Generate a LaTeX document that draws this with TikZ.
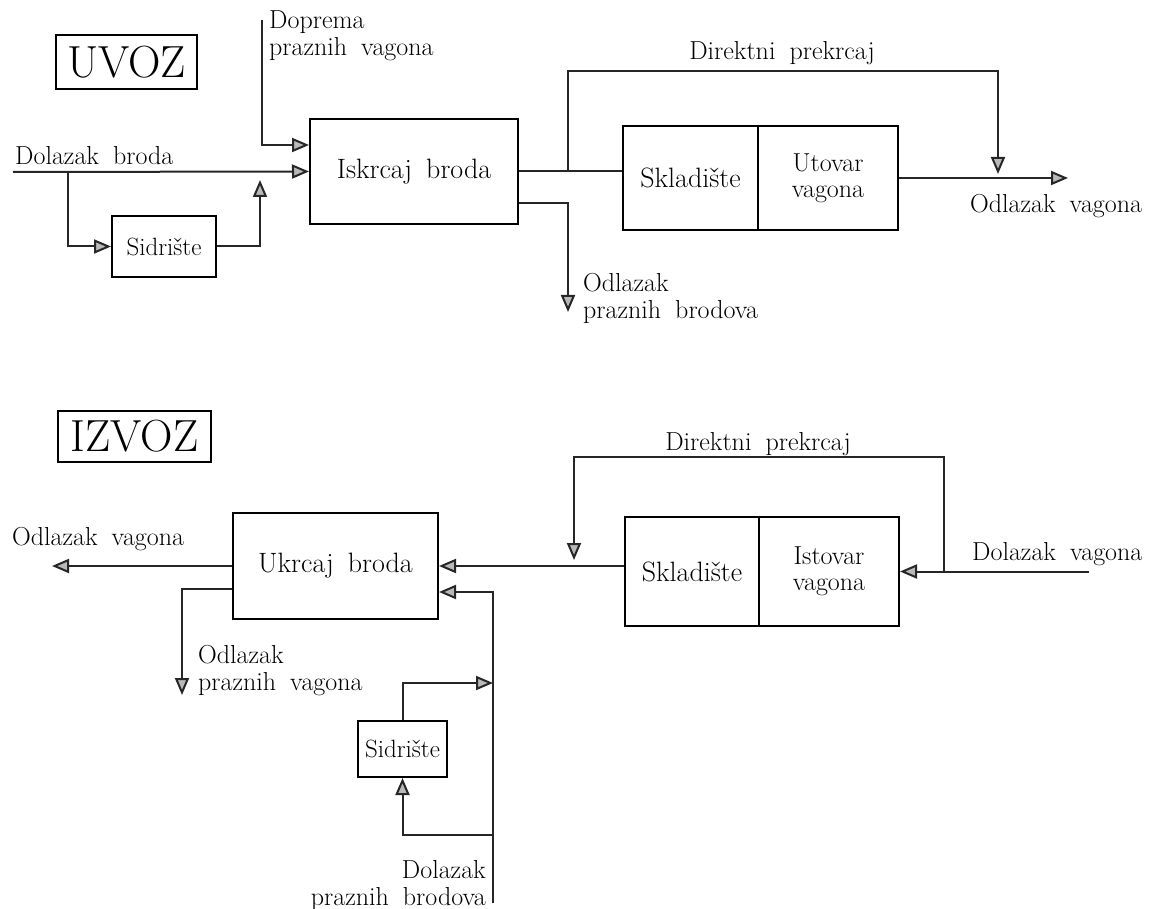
\documentclass[tikz,border=0pt]{standalone}
\usetikzlibrary{arrows.meta}
\newcommand\widespc{\spaceskip 14pt plus 2pt minus 1pt\relax}
\tikzset{
  box/.style={draw, line width=2pt, inner sep=0pt, align=center,
    font=\fontsize{28}{30}\selectfont\widespc},
  smallbox/.style={box, font=\fontsize{25}{28}\selectfont},
  vbox/.style={box, font=\fontsize{26}{26}\selectfont},
  title/.style={draw, line width=2pt, inner sep=0pt, font=\fontsize{45}{48}\selectfont},
  lbl/.style={inner sep=0pt, font=\fontsize{26}{27}\selectfont\widespc},
  flow/.style={line width=2pt, draw=black!85},
  arr/.style={flow, -{Triangle[length=17pt,width=14pt,fill=gray!55]}},
}
\begin{document}
\begin{tikzpicture}[x=1pt,y=-1pt]
\useasboundingbox (0,0) rectangle (1170,909);

% ---------------- UVOZ ----------------
\node[title, minimum width=141pt, minimum height=54pt] (uvoz) at (126.5,62) {UVOZ};
\node[box, minimum width=208pt, minimum height=105pt] (isk) at (414,171.5) {Iskrcaj broda};
\node[smallbox, minimum width=104pt, minimum height=61pt] (sid1) at (164,246.5) {Sidrište};
\node[box, minimum width=135pt, minimum height=104pt] (skl1) at (690.5,178) {Skladište};
\node[vbox, minimum width=140pt, minimum height=104pt] (uto1) at (828,178) {Utovar\\vagona};

\coordinate (dop) at (262,20);
\coordinate (din) at (13,172);
\coordinate (br1) at (68,172);
\coordinate (j1) at (260,180);
\coordinate (j2) at (568,171.5);
\coordinate (dtop) at (998,71);
\coordinate (dtip) at (998,174);
\coordinate (out1) at (1068,178);
\coordinate (odl1) at (568,312);

\draw[arr] (dop) |- ([yshift=26.5pt]isk.west);
\draw[arr] (din) -- (isk.west);
\draw[arr] (br1) |- (sid1.west);
\draw[arr] (sid1.east) -| (j1);
\draw[flow] (isk.east) -- (isk.east -| skl1.west);
\draw[arr] (j2) |- (dtop) -- (dtip);
\draw[arr] (uto1.east) -- (out1);
\draw[arr] ([yshift=-31.5pt]isk.east) -| (odl1);

\node[lbl, anchor=north west, align=left] (ldop) at (269,11) {Doprema\\praznih vagona};
\node[lbl, anchor=base west] (ldol) at (15,165) {Dolazak broda};
\node[lbl, anchor=base] (ldir1) at (782,60) {Direktni prekrcaj};
\node[lbl, anchor=base west] (lodv1) at (970,213) {Odlazak vagona};
\node[lbl, anchor=north west, align=left] (lodb) at (583,273) {Odlazak\\praznih brodova};

% ---------------- IZVOZ ----------------
\node[title, minimum width=153pt, minimum height=51pt] (izvoz) at (134.5,436.5) {IZVOZ};
\node[box, minimum width=205pt, minimum height=106pt] (ukr) at (335.5,566) {Ukrcaj broda};
\node[box, minimum width=134pt, minimum height=109pt] (skl2) at (692,571.5) {Skladište};
\node[vbox, minimum width=140pt, minimum height=109pt] (ist2) at (829,571.5) {Istovar\\vagona};
\node[smallbox, minimum width=89pt, minimum height=56pt] (sid2) at (402.5,749) {Sidrište};

\coordinate (din2) at (1089,571.5);
\coordinate (j3) at (944,571.5);
\coordinate (ltop) at (574,457);
\coordinate (ltip) at (574,560);
\coordinate (ovag) at (52,566);
\coordinate (opv) at (182,695);
\coordinate (dpb) at (493,903);
\coordinate (j4) at (493,683);
\coordinate (j5) at (493,835);

\draw[arr] (din2) -- (ist2.east);
\draw[arr] (j3) |- (ltop) -- (ltip);
\draw[arr] (skl2.west |- ukr.east) -- (ukr.east);
\draw[arr] (ukr.west) -- (ovag);
\draw[arr] ([yshift=-23pt]ukr.west) -| (opv);
\draw[arr] (dpb) |- ([yshift=-26pt]ukr.east);
\draw[arr] (sid2.north) |- (j4);
\draw[arr] (j5) -| (sid2.south);

\node[lbl, anchor=base west] (lodv2) at (12,545) {Odlazak vagona};
\node[lbl, anchor=north west, align=left] (lopv) at (198,645) {Odlazak\\praznih vagona};
\node[lbl, anchor=base] (ldir2) at (758,450) {Direktni prekrcaj};
\node[lbl, anchor=base west] (ldv) at (972,560) {Dolazak vagona};
\node[lbl, anchor=north east, align=right] (ldpb) at (486,860) {Dolazak\\praznih brodova};
\end{tikzpicture}
\end{document}
